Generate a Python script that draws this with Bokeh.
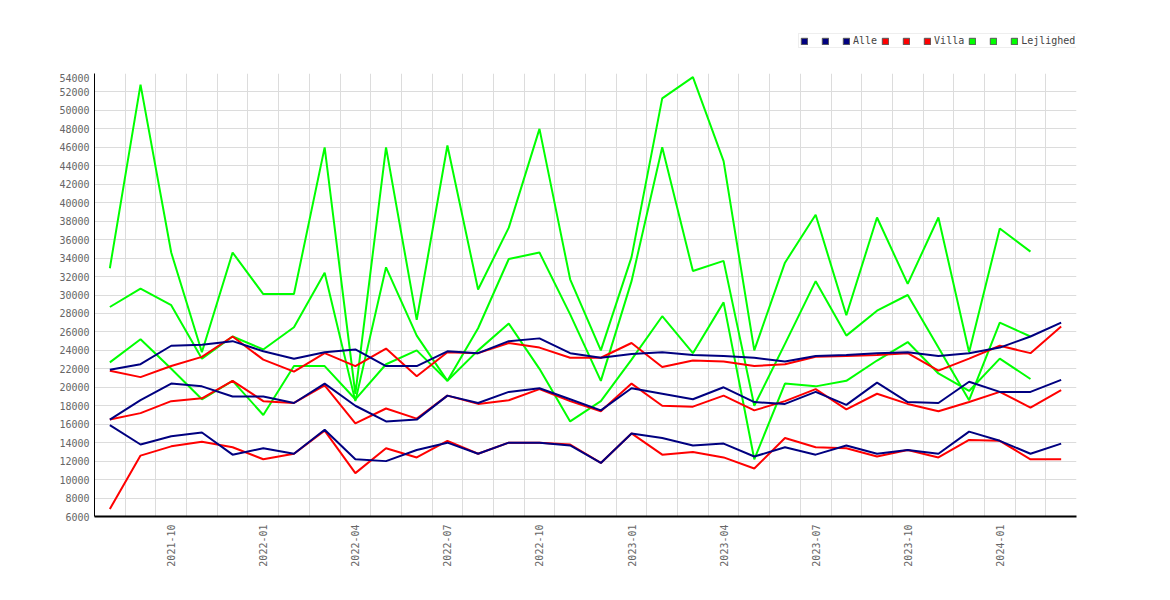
import math
from bokeh.plotting import figure
from bokeh.layouts import column
from bokeh.models import Range1d, FixedTicker, Legend, LegendItem
from bokeh.embed import file_html
from bokeh.resources import INLINE

months = ["2021-08", "2021-09", "2021-10", "2021-11", "2021-12",
          "2022-01", "2022-02", "2022-03", "2022-04", "2022-05", "2022-06",
          "2022-07", "2022-08", "2022-09", "2022-10", "2022-11", "2022-12",
          "2023-01", "2023-02", "2023-03", "2023-04", "2023-05", "2023-06",
          "2023-07", "2023-08", "2023-09", "2023-10", "2023-11", "2023-12",
          "2024-01", "2024-02", "2024-03"]

alle_high = [21900, 22500, 24500, 24600, 25000, 23900, 23100, 23800, 24100, 22300,
             22300, 23900, 23700, 25000, 25300, 23700, 23200, 23600, 23800, 23500,
             23400, 23200, 22800, 23400, 23500, 23700, 23800, 23400, 23700, 24300,
             25500, 27000]
alle_mid = [16500, 18600, 20400, 20100, 19000, 19000, 18300, 20400, 18000, 16300,
            16500, 19100, 18300, 19500, 19900, 18700, 17500, 19900, 19300, 18700,
            20000, 18400, 18200, 19500, 18100, 20500, 18400, 18300, 20600, 19500,
            19500, 20800]
alle_low = [15900, 13800, 14700, 15100, 12700, 13400, 12800, 15400, 12200, 12000,
            13200, 14000, 12800, 14000, 14000, 13700, 11800, 15000, 14500, 13700,
            13900, 12500, 13500, 12700, 13700, 12800, 13200, 12800, 15200, 14200,
            12800, 13900]

villa_high = [21800, 21100, 22300, 23300, 25500, 23000, 21700, 23700, 22300, 24200,
              21200, 23800, 23700, 24800, 24300, 23200, 23200, 24800, 22200, 22900,
              22800, 22300, 22500, 23300, 23400, 23500, 23700, 21800, 23100, 24500,
              23700, 26600]
villa_mid = [16500, 17200, 18500, 18800, 20700, 18500, 18300, 20200, 16100, 17700,
             16600, 19100, 18200, 18600, 19800, 18500, 17400, 20400, 18000, 17900,
             19100, 17500, 18500, 19800, 17600, 19300, 18200, 17400, 18400, 19500,
             17800, 19700]
villa_low = [6800, 12600, 13600, 14100, 13500, 12200, 12800, 15300, 10700, 13400,
             12400, 14200, 12800, 14000, 14000, 13800, 11800, 15000, 12700, 13000,
             12400, 11200, 14500, 13500, 13400, 12500, 13200, 12400, 14300, 14200,
             12200, 12200]

lejl_high = [32900, 52800, 34600, 23800, 34600, 30100, 30100, 46000, 19300, 46000,
             27300, 46200, 30600, 37300, 48000, 31700, 24000, 34100, 51300, 53600,
             44500, 24000, 33500, 38700, 27800, 38400, 31200, 38400, 23800, 37200,
             34700]
lejl_mid = [28700, 30700, 28900, 23100, 25500, 24100, 26500, 32400, 18500, 33000,
            25600, 20700, 26400, 33900, 34600, 27900, 20700, 31500, 46000, 32600,
            33700, 18000, 24700, 31500, 25600, 28300, 30000, 24300, 18600, 27000,
            25500]
lejl_low = [22700, 25200, 22000, 18700, 20700, 17000, 22300, 22300, 18700, 22500,
            24000, 20700, 24000, 26900, 22000, 16300, 18500, 23000, 27700, 23700,
            29200, 12200, 20400, 20100, 20700, 22900, 24900, 21500, 19600, 23100,
            20900]

group_names = ["Alle", "Villa", "Lejlighed"]
group_colors = ["#000080", "#ff0000", "#00ff00"]
groups = [[alle_high, alle_mid, alle_low],
          [villa_high, villa_mid, villa_low],
          [lejl_high, lejl_mid, lejl_low]]

y_ticks = list(range(6000, 54001, 2000))
label_idx = [i for i, m in enumerate(months) if m[5:] in ("01", "04", "07", "10")]

FONT = "DejaVu Sans Mono"
GRAY = "#666666"
W = 1160

# ---- legend strip ----
lg = figure(width=W, height=73, output_backend="svg", toolbar_location=None,
            x_range=Range1d(0, 1), y_range=Range1d(0, 1),
            x_axis_type=None, y_axis_type=None,
            min_border_left=0, min_border_right=0, min_border_top=0,
            min_border_bottom=0)
lg.outline_line_color = None
lg.xgrid.visible = False
lg.ygrid.visible = False

nan = float("nan")
items = []
for gi, name in enumerate(group_names):
    for k in range(3):
        r = lg.quad(left=[nan], right=[nan], top=[nan], bottom=[nan],
                    fill_color=group_colors[gi], line_color="#555555")
        items.append(LegendItem(label=name if k == 2 else " ", renderers=[r]))

legend = Legend(items=items, orientation="horizontal", location=(704, 25),
                glyph_width=8, glyph_height=8, label_standoff=3, spacing=4,
                padding=1, margin=0, label_width=6, label_height=8,
                label_text_font=FONT, label_text_font_size="10px",
                label_text_color="#444444", border_line_color="#dddddd",
                background_fill_color="white", background_fill_alpha=1.0)
lg.add_layout(legend, "center")

# ---- main chart ----
p = figure(width=W, height=517, output_backend="svg", toolbar_location=None,
           x_range=Range1d(-0.5, len(months) - 0.5), y_range=Range1d(6000, 54000),
           min_border_left=94, min_border_right=84, min_border_top=0,
           min_border_bottom=74)
p.outline_line_color = None
p.background_fill_color = "white"

p.xgrid.ticker = FixedTicker(ticks=[i + 0.5 for i in range(len(months))])
p.ygrid.ticker = FixedTicker(ticks=y_ticks)
p.xgrid.grid_line_color = "#dcdcdc"
p.ygrid.grid_line_color = "#dcdcdc"

p.xaxis.ticker = FixedTicker(ticks=label_idx)
p.xaxis.major_label_overrides = {i: months[i] for i in label_idx}
p.xaxis.major_label_orientation = math.pi / 2
p.yaxis.ticker = FixedTicker(ticks=y_ticks)
for ax in (p.xaxis, p.yaxis):
    ax.major_tick_line_color = None
    ax.minor_tick_line_color = None
    ax.major_tick_out = 0
    ax.major_tick_in = 0
    ax.axis_line_color = "black"
    ax.major_label_text_font = FONT
    ax.major_label_text_font_size = "10px"
    ax.major_label_text_color = GRAY
p.xaxis.major_label_standoff = 8
p.yaxis.major_label_standoff = 5
p.xaxis.axis_line_width = 2
p.yaxis.axis_line_width = 1

for gi in [2, 1, 0]:
    for series in groups[gi]:
        p.line(list(range(len(series))), series, line_color=group_colors[gi],
               line_width=2)

page = column(lg, p, spacing=0)
open("out.html", "w").write(file_html(page, INLINE))
